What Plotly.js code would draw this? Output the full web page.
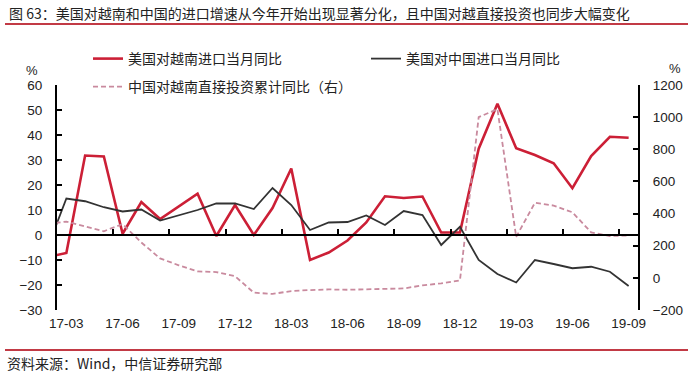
<!DOCTYPE html>
<html><head><meta charset="utf-8">
<script src="https://cdn.plot.ly/plotly-3.0.1.min.js"></script>
<style>html,body{margin:0;padding:0;background:#fff}#chart{width:700px;height:373px}</style>
</head><body><div id="chart"></div>
<script>
const months = ['17-02','17-03','17-04','17-05','17-06','17-07','17-08','17-09','17-10','17-11','17-12',
  '18-01','18-02','18-03','18-04','18-05','18-06','18-07','18-08','18-09','18-10','18-11','18-12',
  '19-01','19-02','19-03','19-04','19-05','19-06','19-07','19-08','19-09'];
const usVietnam = [-8.8, -7.2, 31.8, 31.4, 0.5, 13.2, 6.4, 11.5, 16.5, -0.4, 12, 0, 10.8, 26.6, -10, -7,
  -2.2, 5, 15.5, 14.8, 15.4, 1, 1, 34.5, 52.5, 34.7, 32, 28.7, 18.7, 31.6, 39.3, 38.9];
const usChina = [-5, 14.6, 13.5, 11.1, 9.4, 10.2, 5.8, 8, 10, 12.6, 12.6, 10.4, 18.8, 12, 2, 5,
  5.2, 7.8, 4, 9.6, 8, -4, 3.3, -10, -15.6, -19, -10, -11.6, -13.3, -12.7, -14.7, -20.4];
const chinaFdiVietnam = [336, 350, 320, 290, 335, 220, 121, 78, 40, 36, 10, -92, -100, -82, -76, -72,
  -74, -72, -70, -66, -47, -34, -16, 1000, 1050, 255, 467, 450, 408, 283, 260, 264];
const tickLabels = ['17-03','17-06','17-09','17-12','18-03','18-06','18-09','18-12','19-03','19-06','19-09'];
const seriesNames = ['美国对越南进口当月同比', '美国对中国进口当月同比', '中国对越南直接投资累计同比（右）'];
const titleText = '图 63：美国对越南和中国的进口增速从今年开始出现显著分化，且中国对越直接投资也同步大幅变化';
const sourceText = '资料来源：Wind，中信证券研究部';

const xs = months.map((m, i) => i);
const labelPos = tickLabels.map(l => months.indexOf(l));
const boundaryPos = labelPos.map(v => v - 0.5);
const FONT = 'Liberation Sans, Arial, Noto Sans CJK SC, sans-serif';
const CJK = 'Noto Sans CJK SC, Liberation Sans, sans-serif';
const XR = [0.5, months.length - 0.5];

// plot area in pixels: left 57, right 638, top 85, bottom 310
const PL = 57, PW = 581, PB = 310, PH = 225;
const px = v => (v - PL) / PW;
const py = v => (PB - v) / PH;

const traces = [
  {x: xs, y: usVietnam, name: seriesNames[0], type: 'scatter', mode: 'lines',
   line: {color: '#cc1f36', width: 2.6}, legend: 'legend'},
  {x: xs, y: usChina, name: seriesNames[1], type: 'scatter', mode: 'lines',
   line: {color: '#333333', width: 1.8}, legend: 'legend'},
  {x: xs, y: chinaFdiVietnam, name: seriesNames[2], type: 'scatter', mode: 'lines', yaxis: 'y2',
   line: {color: '#c98a9e', width: 1.8, dash: '5px,3px'}, legend: 'legend2'},
  {x: [null], y: [null], xaxis: 'x2', yaxis: 'y', showlegend: false, hoverinfo: 'skip', type: 'scatter', mode: 'lines'}
];

const axisStyle = {showline: true, linecolor: '#000', linewidth: 2, ticks: 'inside', ticklen: 5,
  tickwidth: 2, tickcolor: '#000', showgrid: false, zeroline: false,
  tickfont: {family: FONT, size: 13.5, color: '#222'}};

const layout = {
  width: 700, height: 373,
  margin: {l: 57, r: 62, t: 85, b: 63},
  paper_bgcolor: '#fff', plot_bgcolor: '#fff',
  showlegend: true,
  title: {text: titleText, x: 9/700, xanchor: 'left', xref: 'container', y: 1 - 14/373, yanchor: 'middle',
          yref: 'container', font: {family: CJK, size: 14, color: '#222'}},
  xaxis: {range: XR, tickvals: labelPos, ticktext: tickLabels, showline: false, ticks: '',
          showgrid: false, zeroline: false, ticklabelstandoff: 3,
          tickfont: {family: FONT, size: 13.5, color: '#222'}},
  xaxis2: Object.assign({}, axisStyle, {overlaying: 'x', anchor: 'free', position: 1/3, range: XR,
          tickvals: boundaryPos, showticklabels: false, side: 'bottom'}),
  yaxis: Object.assign({}, axisStyle, {range: [-30, 60], dtick: 10, tick0: 0, ticklabelstandoff: 10}),
  yaxis2: Object.assign({}, axisStyle, {overlaying: 'y', side: 'right', range: [-200, 1200], dtick: 200,
          tick0: 0, ticklabelstandoff: 10}),
  legend: {orientation: 'h', xref: 'paper', yref: 'paper', x: px(88), y: py(43),
           xanchor: 'left', yanchor: 'top', entrywidth: 233, bgcolor: 'rgba(0,0,0,0)',
           font: {family: CJK, size: 14, color: '#222'}},
  legend2: {orientation: 'h', xref: 'paper', yref: 'paper', x: px(88), y: py(71),
            xanchor: 'left', yanchor: 'top', bgcolor: 'rgba(0,0,0,0)',
            font: {family: CJK, size: 14, color: '#222'}},
  shapes: [
    {type: 'line', xref: 'paper', yref: 'paper', x0: px(5), x1: px(688), y0: py(24), y1: py(24),
     line: {color: '#c23a45', width: 2}},
    {type: 'line', xref: 'paper', yref: 'paper', x0: px(5), x1: px(688), y0: py(350), y1: py(350),
     line: {color: '#c23a45', width: 2}}
  ],
  annotations: [
    {text: '%', xref: 'paper', yref: 'paper', x: px(25), y: py(62), showarrow: false, borderpad: 0,
     font: {family: FONT, size: 13, color: '#222'}},
    {text: '%', xref: 'paper', yref: 'paper', x: px(682), y: py(60), showarrow: false, borderpad: 0,
     font: {family: FONT, size: 13, color: '#222'}},
    {text: sourceText, xref: 'paper', yref: 'paper', x: px(5), y: py(363), xanchor: 'left',
     yanchor: 'middle', showarrow: false, font: {family: CJK, size: 14, color: '#222'}}
  ]
};

Plotly.newPlot('chart', traces, layout, {staticPlot: true, displayModeBar: false});
</script>
</body></html>
